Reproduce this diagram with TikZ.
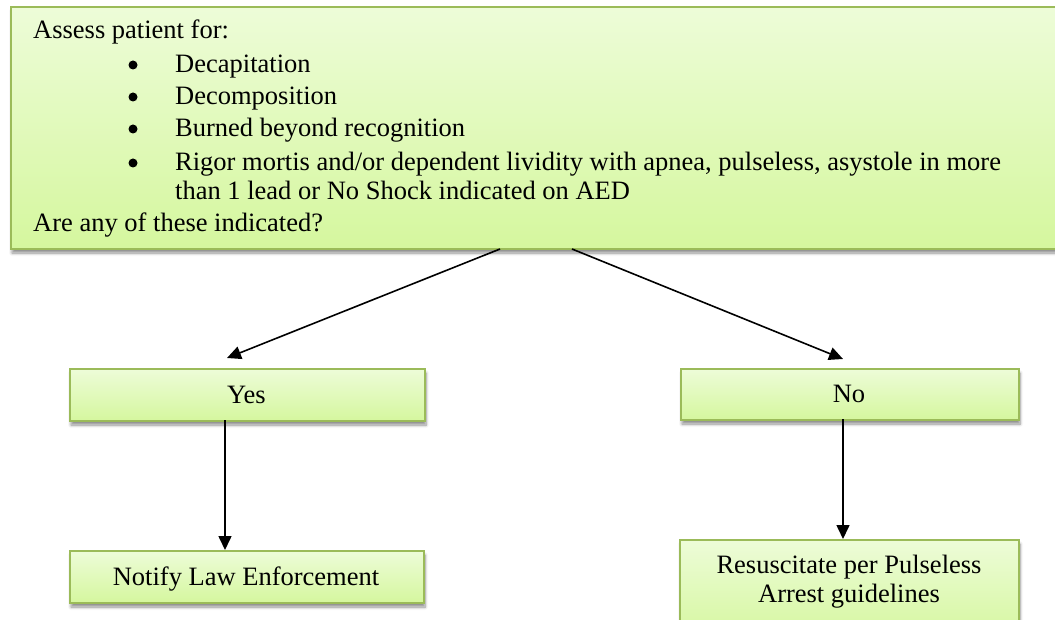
\documentclass[tikz,border=0pt]{standalone}
\usepackage{fontspec}
\setmainfont{Liberation Serif}
\usetikzlibrary{arrows.meta,shadows.blur}

\definecolor{boxline}{RGB}{155,187,89}
\definecolor{boxtop}{RGB}{237,252,216}
\definecolor{boxbottom}{RGB}{213,247,158}

\tikzset{
  flowbox/.style={
    draw=boxline, line width=2pt, rectangle, inner sep=0pt,
    top color=boxtop, bottom color=boxbottom,
    blur shadow={shadow xshift=1pt, shadow yshift=-4pt,
                 shadow blur radius=3pt, shadow blur steps=6,
                 shadow opacity=45},
    anchor=north west},
  txt/.style={inner sep=0pt, font=\fontsize{26.5}{30}\selectfont},
  dot/.style={circle, fill=black, inner sep=0pt, minimum size=9pt},
  flow/.style={line width=1.6pt, -{Triangle[length=14pt,width=13pt]}}
}

\begin{document}
\begin{tikzpicture}[x=1pt, y=-1pt]
  \useasboundingbox (0,0) rectangle (1055,620);
  \clip (0,0) rectangle (1055,620);

  % question box
  \node[flowbox, minimum width=1070pt, minimum height=242pt] (ask) at (10,6) {};
  \node[txt, anchor=base west] (ask0) at (33,39) {Assess patient for:};
  \node[dot] (b1) at (133,65) {};
  \node[txt, anchor=base west] (ask1) at (175,73) {Decapitation};
  \node[dot] (b2) at (133,97) {};
  \node[txt, anchor=base west] (ask2) at (175,105) {Decomposition};
  \node[dot] (b3) at (133,129) {};
  \node[txt, anchor=base west] (ask3) at (175,137) {Burned beyond recognition};
  \node[dot] (b4) at (133,163) {};
  \node[txt, anchor=base west] (ask4) at (175,171) {Rigor mortis and/or dependent lividity with apnea, pulseless, asystole in more};
  \node[txt, anchor=base west] (ask5) at (175,200) {than 1 lead or No Shock indicated on AED};
  \node[txt, anchor=base west] (ask6) at (33,232) {Are any of these indicated?};

  % answer boxes
  \node[flowbox, minimum width=355pt, minimum height=52pt] (yes) at (69,368) {};
  \node[txt, anchor=base] (yest) at (246.5,403) {Yes};
  \node[flowbox, minimum width=338pt, minimum height=51pt] (no) at (680,368) {};
  \node[txt, anchor=base] (not) at (849,402) {No};

  % outcome boxes
  \node[flowbox, minimum width=354pt, minimum height=52pt] (law) at (69,550) {};
  \node[txt, anchor=base] (lawt) at (246,585) {Notify Law Enforcement};
  \node[flowbox, minimum width=339pt, minimum height=100pt] (cpr) at (679,539) {};
  \node[txt, anchor=base] (cprt1) at (849,573) {Resuscitate per Pulseless};
  \node[txt, anchor=base] (cprt2) at (849,602) {Arrest guidelines};

  % connector ends
  \coordinate (askL) at (500,249);
  \coordinate (askR) at (572,249);
  \coordinate (yesIn) at (227,358);
  \coordinate (noIn) at (843,359);
  \coordinate (yesOut) at (225,420);
  \coordinate (lawIn) at (225,550);
  \coordinate (noOut) at (843,419);
  \coordinate (cprIn) at (843,539);

  \draw[flow] (askL) -- (yesIn);
  \draw[flow] (askR) -- (noIn);
  \draw[flow] (yesOut) -- (lawIn);
  \draw[flow] (noOut) -- (cprIn);
\end{tikzpicture}
\end{document}
